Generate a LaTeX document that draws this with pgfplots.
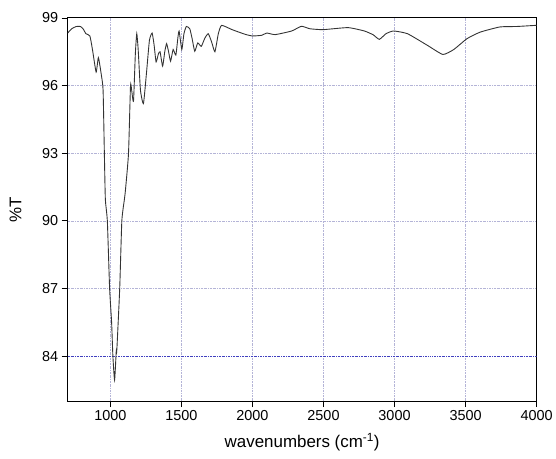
\documentclass[border=0pt]{standalone}
\usepackage{fontspec}
\setmainfont{Liberation Sans}
\usepackage{pgfplots}
\pgfplotsset{compat=1.18}

\pgfplotstableread{
x y
700 98.33
728 98.52
760 98.62
790 98.62
810 98.5
828 98.3
856 98.2
875 97.57
900 96.6
916 97.24
937 96.46
949 95.8
958 93.0
965 90.95
979 90.0
995 87.0
1009 85.5
1018 84.0
1030 82.94
1042 84.26
1046 84.3
1066 87.0
1081 90.0
1100 91.0
1107 91.4
1128 93.0
1142 96.0
1150 95.8
1163 95.3
1176 97.4
1186 98.3
1196 97.6
1212 95.8
1233 95.2
1255 96.6
1275 98.0
1294 98.33
1308 97.8
1322 97.05
1338 97.4
1350 97.5
1368 96.86
1383 97.5
1396 97.86
1410 97.5
1424 97.08
1442 97.6
1461 97.35
1475 98.1
1484 98.42
1503 97.6
1518 98.3
1535 98.62
1559 98.52
1575 98.1
1594 97.52
1615 97.89
1640 97.74
1665 98.1
1689 98.3
1712 97.95
1736 97.5
1760 98.3
1783 98.67
1857 98.48
1950 98.27
2001 98.2
2066 98.23
2101 98.33
2160 98.26
2276 98.42
2345 98.63
2404 98.52
2497 98.48
2672 98.57
2788 98.42
2850 98.25
2893 98.05
2940 98.3
2993 98.42
3091 98.3
3230 97.79
3340 97.38
3417 97.6
3510 98.08
3603 98.37
3742 98.6
3859 98.62
3994 98.67
4000 98.67
}\spectrum

\begin{document}
\begin{tikzpicture}
\begin{axis}[
  scale only axis, width=471pt, height=385pt,
  xmin=700, xmax=4000, ymin=82, ymax=99,
  xtick={1000,1500,...,3500}, ytick={87,90,93,96},
  extra x ticks={4000}, extra y ticks={84,99},
  extra tick style={grid=none},
  xtick pos=left, ytick pos=left, tick align=outside,
  major tick length=6pt,
  tick style={black, line width=0.8pt},
  axis line style={black, line width=1pt},
  /pgf/number format/assume math mode=true,
  /pgf/number format/1000 sep={},
  tick label style={font=\fontsize{14.5}{16}\selectfont},
  xlabel={wavenumbers (cm\textsuperscript{-1})},
  ylabel={\%T},
  every axis x label/.style={at={(axis description cs:0.5,-0.075)}, anchor=north,
    font=\fontsize{17}{19}\selectfont},
  every axis y label/.style={at={(axis description cs:-0.091,0.5)}, rotate=90, anchor=south,
    font=\fontsize{17}{19}\selectfont},
  grid=major,
  major grid style={color=blue!30!gray!45, line width=0.5pt,
    dash pattern=on 2pt off 1pt on 0.6pt off 1pt},
]
\addplot[color=blue!50!gray, line width=0.7pt,
  dash pattern=on 2pt off 1pt on 0.6pt off 1pt, forget plot]
  coordinates {(700,84) (4000,84)};
\addplot[color=black!80, line width=0.9pt, smooth, tension=0.3] table {\spectrum};
\path (axis cs:700,82) ++(-68pt,-58pt) coordinate (bbA);
\path (axis cs:700,82) ++(488pt,403pt) coordinate (bbB);
\end{axis}
\path (bbA) rectangle (bbB);
\end{tikzpicture}
\end{document}
